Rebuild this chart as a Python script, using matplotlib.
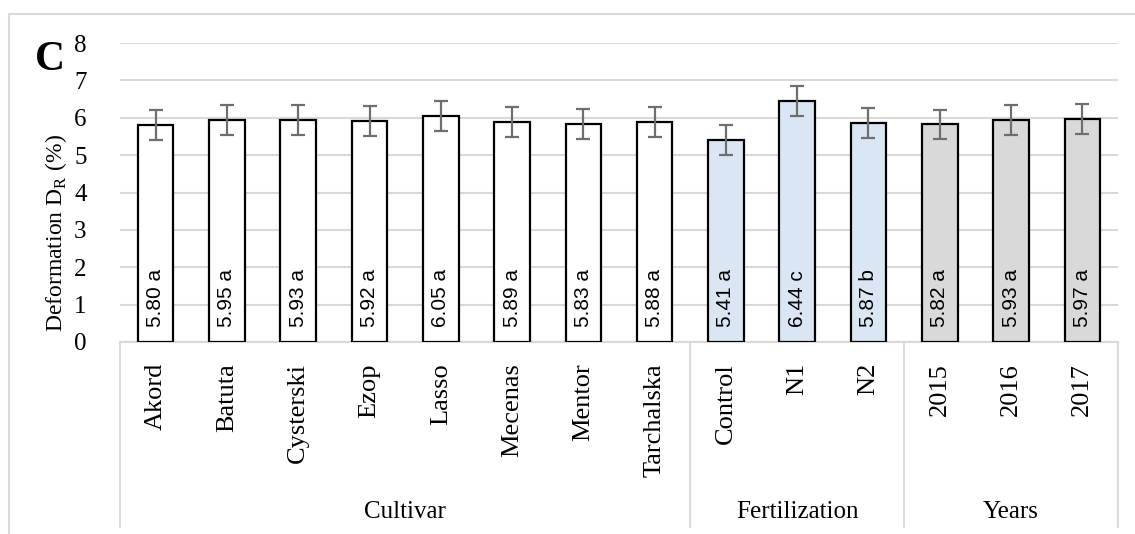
import matplotlib
matplotlib.use("Agg")
import matplotlib.pyplot as plt
from matplotlib.patches import Rectangle
from matplotlib.lines import Line2D
import numpy as np

categories = ['Akord', 'Batuta', 'Cysterski', 'Ezop', 'Lasso', 'Mecenas', 'Mentor',
              'Tarchalska', 'Control', 'N1', 'N2', '2015', '2016', '2017']
means = [5.80, 5.95, 5.93, 5.92, 6.05, 5.89, 5.83, 5.88, 5.41, 6.44, 5.87, 5.82, 5.93, 5.97]
errors = [0.40, 0.40, 0.40, 0.40, 0.40, 0.40, 0.40, 0.40, 0.40, 0.40, 0.40, 0.40, 0.40, 0.40]
letters = ['a', 'a', 'a', 'a', 'a', 'a', 'a', 'a', 'a', 'c', 'b', 'a', 'a', 'a']
groups = ['Cultivar', 'Fertilization', 'Years']
group_sizes = [8, 3, 3]
group_colors = ['#ffffff', '#dae6f4', '#d9d9d9']

serif = 'Liberation Serif'
plt.rcParams['mathtext.fontset'] = 'custom'
plt.rcParams['mathtext.rm'] = serif
W, H = 1135, 534

fig = plt.figure(figsize=(W / 100, H / 100), dpi=100)

# outer frame
fig.patches.append(Rectangle((9 / W, -0.1), 1.2, 1 - 14 / H + 0.1, transform=fig.transFigure,
                             fill=False, edgecolor='#d9d9d9', linewidth=1.5))

ax = fig.add_axes([120 / W, (H - 342) / H, (1118 - 120) / W, (342 - 43) / H])

colors = []
for c, n in zip(group_colors, group_sizes):
    colors += [c] * n

x = np.arange(len(categories))
ax.bar(x, means, width=0.5, color=colors, edgecolor='black', linewidth=1.6, zorder=3)
ax.errorbar(x, means, yerr=errors, fmt='none', ecolor='#6e6e6e', elinewidth=1.6,
            capsize=5, capthick=1.6, zorder=4)

for xi, m, l in zip(x, means, letters):
    ax.text(xi, 0.40, f'{m:.2f} {l}', rotation=90, ha='center', va='bottom',
            fontsize=15, family='Liberation Sans', zorder=5)

ax.set_xlim(-0.5, len(categories) - 0.5)
ax.set_ylim(0, 8)
ax.set_yticks(range(0, 9))
ax.grid(axis='y', color='#d9d9d9', linewidth=1.5, zorder=0)
for s in ax.spines.values():
    s.set_visible(False)
ax.tick_params(axis='y', length=0, pad=24, labelsize=18)
for t in ax.get_yticklabels():
    t.set_family(serif)
ax.set_xticks([])

# category axis box
trans = ax.get_xaxis_transform()
box_bottom = (342 - 527) / 299
ax.add_line(Line2D([-0.5, len(categories) - 0.5], [0, 0], transform=trans,
                   color='#d9d9d9', linewidth=1.5, clip_on=False))
edges = np.concatenate([[0], np.cumsum(group_sizes)]) - 0.5
for e in edges:
    ax.add_line(Line2D([e, e], [0, box_bottom], transform=trans, color='#d9d9d9',
                       linewidth=1.5, clip_on=False))

for xi, c in zip(x, categories):
    ax.text(xi, (342 - 363) / 299, c, rotation=90, ha='center', va='top',
            fontsize=19, family=serif, transform=trans)

for g, a, b in zip(groups, edges[:-1], edges[1:]):
    ax.text((a + b) / 2, (342 - 512) / 299, g, ha='center', va='center',
            fontsize=18, family=serif, transform=trans)

fig.text(56 / W, 1 - 233 / H, r'Deformation D$_\mathregular{R}$ (%)', rotation=90,
         ha='center', va='center', fontsize=17, family=serif)
fig.text(35 / W, 1 - 70 / H, 'C', fontsize=30, fontweight='bold', family=serif,
         ha='left', va='baseline')

fig.savefig('out.png', dpi=100)
